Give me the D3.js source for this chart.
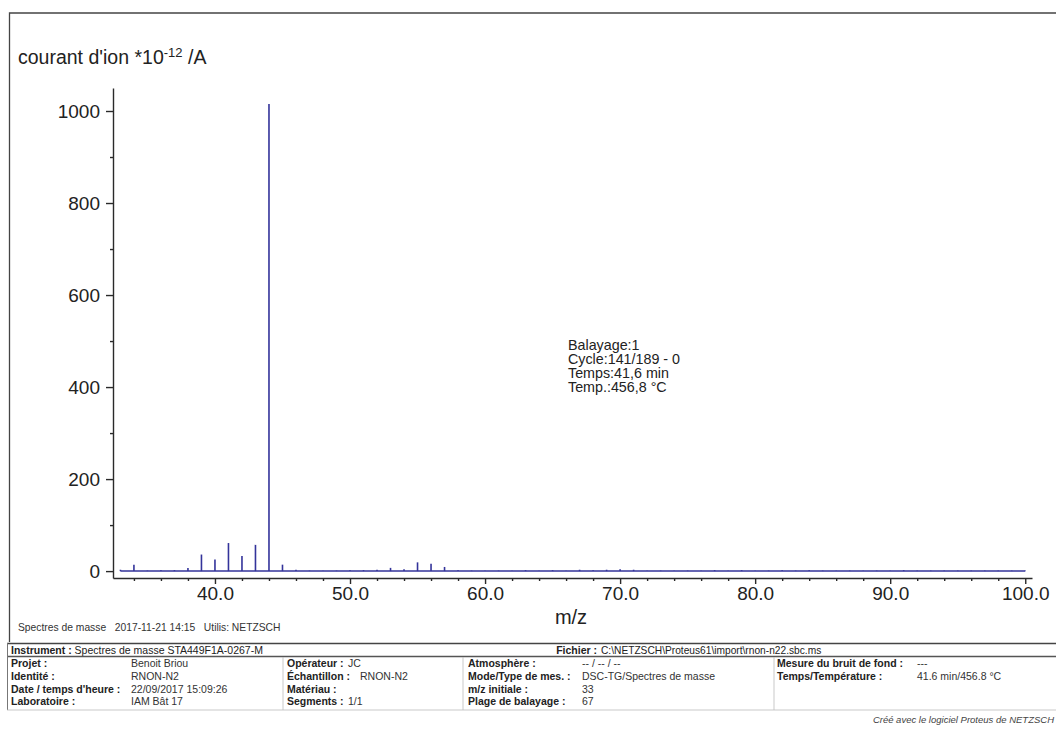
<!DOCTYPE html>
<html>
<head>
<meta charset="utf-8">
<script src="https://cdn.jsdelivr.net/npm/d3@7"></script>
<style>
  html, body { margin: 0; padding: 0; background: #fff; }
  svg { display: block; font-family: "Liberation Sans", Arial, sans-serif; }
</style>
</head>
<body>
<svg id="chart" width="1056" height="729"></svg>
<script>
// ---- data ----
const mzValues = [33,34,35,36,37,38,39,40,41,42,43,44,45,46,47,48,49,50,51,52,53,54,55,56,57,58,59,60,
  61,62,63,64,65,66,67,68,69,70,71,72,73,74,75,76,77,78,79,80,81,82,83,84,85,86,87,88,89,90,
  91,92,93,94,95,96,97,98,99,100];
const ionCurrent = [3,14,1,2,2,7,36,25,61,33,57,1015,14,3,1,1,1,2,2,3,7,4,19,16,9,2,1,1,
  1,1,2,1,2,1,3,2,3,4,3,1,1,1,1,1,2,1,2,1,1,2,1,2,1,1,1,1,1,1,
  2,1,1,1,1,1,1,1,1,1];
const xMajorTicks = [40,50,60,70,80,90,100];
const xMinorTicks = [34,36,38,42,44,46,48,52,54,56,58,62,64,66,68,72,74,76,78,82,84,86,88,92,94,96,98];
const yMajorTicks = [0,200,400,600,800,1000];
const yMinorTicks = [100,300,500,700,900];
const annotationLines = ["Balayage:1","Cycle:141/189 - 0","Temps:41,6 min","Temp.:456,8 °C"];
const headerLine = "Spectres de masse   2017-11-21 14:15   Utilis: NETZSCH";
const tableCol1 = [["Projet :","Benoit Briou"],["Identité :","RNON-N2"],["Date / temps d'heure :","22/09/2017 15:09:26"],["Laboratoire :","IAM Bât 17"]];
const tableCol2 = [["Opérateur :","JC"],["Échantillon :","RNON-N2"],["Matériau :",""],["Segments :","1/1"]];
const tableCol3 = [["Atmosphère :","-- / -- / --"],["Mode/Type de mes. :","DSC-TG/Spectres de masse"],["m/z initiale :","33"],["Plage de balayage :","67"]];
const tableCol4 = [["Mesure du bruit de fond :","---"],["Temps/Température :","41.6 min/456.8 °C"]];

// ---- setup ----
const svg = d3.select("#chart");
const spectrumColor = "#33339a";
const axisColor = "#2a2a2a";

// outer frame
svg.append("path")
  .attr("d", "M1060,13 H9.5 V642")
  .attr("fill", "none").attr("stroke", "#444").attr("stroke-width", 1.3);

const x = d3.scaleLinear().domain([32.45, 100.5]).range([113, 1032]);
const y = d3.scaleLinear().domain([-15, 1050]).range([578, 88]);

// spectrum
const data = mzValues.map((m, i) => ({ mz: m, v: ionCurrent[i] }));
const g = svg.append("g");
g.append("line")
  .attr("x1", x(mzValues[0])).attr("x2", x(mzValues[mzValues.length - 1]))
  .attr("y1", y(0)).attr("y2", y(0))
  .attr("stroke", spectrumColor).attr("stroke-width", 1.5);
g.selectAll("line.peak").data(data).join("line")
  .attr("class", "peak")
  .attr("x1", d => x(d.mz)).attr("x2", d => x(d.mz))
  .attr("y1", y(0)).attr("y2", d => y(d.v))
  .attr("stroke", spectrumColor).attr("stroke-width", 1.6);

// axes
function styleAxis(sel) {
  sel.selectAll("path, line").attr("stroke", axisColor).attr("stroke-width", 1.4);
  sel.selectAll("text").attr("fill", "#222").style("font-size", "19px")
    .style("font-family", "'Liberation Sans', Arial, sans-serif");
}
const xAxis = svg.append("g").attr("transform", "translate(0,578)")
  .call(d3.axisBottom(x).tickValues(xMajorTicks).tickFormat(d3.format(".1f")).tickSize(6).tickSizeOuter(0).tickPadding(3));
styleAxis(xAxis);
const xMinor = svg.append("g").attr("transform", "translate(0,578)")
  .call(d3.axisBottom(x).tickValues(xMinorTicks).tickFormat("").tickSize(3).tickSizeOuter(0));
styleAxis(xMinor);
xMinor.select(".domain").remove();

const yAxis = svg.append("g").attr("transform", "translate(113,0)")
  .call(d3.axisLeft(y).tickValues(yMajorTicks).tickFormat(d3.format("d")).tickSize(7).tickSizeOuter(0).tickPadding(6));
styleAxis(yAxis);
const yMinor = svg.append("g").attr("transform", "translate(113,0)")
  .call(d3.axisLeft(y).tickValues(yMinorTicks).tickFormat("").tickSize(3).tickSizeOuter(0));
styleAxis(yMinor);
yMinor.select(".domain").remove();

// y title
const yt = svg.append("text").attr("x", 18).attr("y", 64)
  .attr("fill", "#222").style("font-size", "19.5px");
yt.append("tspan").text("courant d'ion *10");
yt.append("tspan").attr("dy", -7).style("font-size", "13px").text("-12");
yt.append("tspan").attr("dy", 7).text(" /A");

// x title
svg.append("text").attr("x", 571).attr("y", 624).attr("text-anchor", "middle")
  .attr("fill", "#222").style("font-size", "20px").text("m/z");

// annotation
svg.append("g").selectAll("text").data(annotationLines).join("text")
  .attr("x", 568).attr("y", (d, i) => 350 + i * 14)
  .attr("fill", "#222").style("font-size", "14.3px").text(d => d);

// header line
svg.append("text").attr("x", 18).attr("y", 631).attr("fill", "#333")
  .style("font-size", "10.3px").attr("xml:space", "preserve").text(headerLine);

// table
const tline = (x1, y1, x2, y2, w, c) => svg.append("line")
  .attr("x1", x1).attr("y1", y1).attr("x2", x2).attr("y2", y2)
  .attr("stroke", c || "#555").attr("stroke-width", w || 1);
tline(7, 643.5, 1056, 643.5, 1.5, "#444");
tline(7, 656.5, 1056, 656.5, 1.3, "#555");
tline(7.5, 643, 7.5, 710, 1, "#777");
tline(7, 710, 1056, 710, 0.8, "#bbb");
tline(283, 657, 283, 710, 0.8, "#bbb");
tline(463, 657, 463, 710, 0.8, "#bbb");
tline(774, 657, 774, 710, 0.8, "#bbb");

const tfont = "10.5px";
const ti = svg.append("text").attr("x", 11).attr("y", 654).attr("fill", "#222").style("font-size", tfont);
ti.append("tspan").style("font-weight", "bold").text("Instrument :");
ti.append("tspan").text("  Spectres de masse STA449F1A-0267-M");
svg.append("text").attr("x", 597).attr("y", 654).attr("text-anchor", "end")
  .attr("fill", "#222").style("font-size", tfont).style("font-weight", "bold").text("Fichier :");
svg.append("text").attr("x", 601).attr("y", 654)
  .attr("fill", "#222").style("font-size", "10.2px").text("C:\\NETZSCH\\Proteus61\\import\\rnon-n22.sbc.ms");

function drawCol(rows, lx, vx, vx2) {
  rows.forEach((r, i) => {
    const yy = 667 + i * 12.8;
    svg.append("text").attr("x", lx).attr("y", yy).attr("fill", "#222")
      .style("font-size", tfont).style("font-weight", "bold").text(r[0]);
    svg.append("text").attr("x", (vx2 && i === 1) ? vx2 : vx).attr("y", yy).attr("fill", "#333")
      .style("font-size", tfont).text(r[1]);
  });
}
drawCol(tableCol1, 11, 131);
drawCol(tableCol2, 287, 348, 360);
drawCol(tableCol3, 468, 582);
drawCol(tableCol4, 777, 917);

svg.append("text").attr("x", 1054).attr("y", 723).attr("text-anchor", "end")
  .attr("fill", "#444").style("font-size", "9.5px").style("font-style", "italic")
  .text("Créé avec le logiciel Proteus de NETZSCH");
</script>
</body>
</html>
